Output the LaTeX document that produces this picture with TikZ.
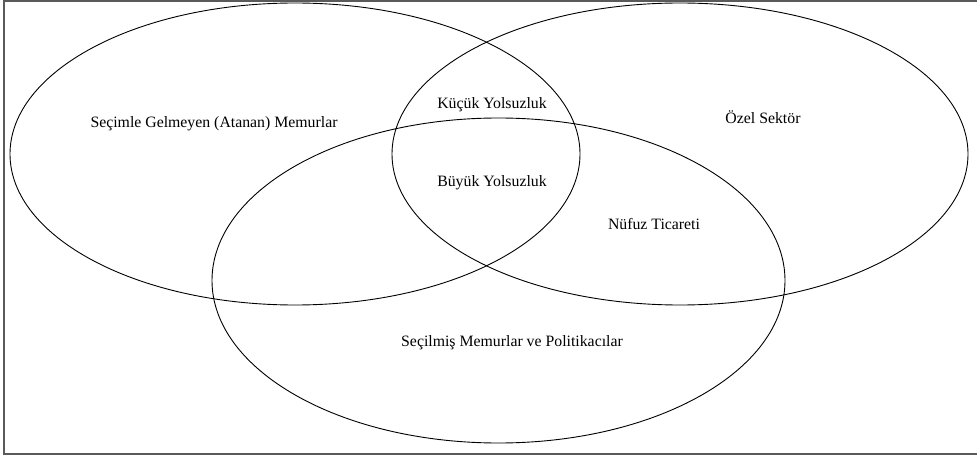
\documentclass[tikz,border=0pt]{standalone}
\usepackage{fontspec}
\setmainfont{Liberation Serif}
\usepackage{tikz}
\usetikzlibrary{positioning}
\definecolor{frameGray}{HTML}{5A5A5A}
\tikzset{
  setline/.style={draw=black, line width=0.9pt},
  setlabel/.style={font=\fontsize{15.8}{19}\selectfont, inner sep=1pt},
  framebox/.style={draw=frameGray, line width=1.6pt},
}
\begin{document}
\begin{tikzpicture}[x=1pt, y=-1pt]
\useasboundingbox (0,0) rectangle (977,457);
\fill[white] (0,0) rectangle (977,457);

%% Frame
\draw[framebox] (4,1) rectangle (985,454);

%% Sets
\draw[setline] (295,154) ellipse [x radius=285, y radius=151];
\draw[setline] (680,154) ellipse [x radius=288, y radius=151];
\draw[setline] (498.5,280.5) ellipse [x radius=286.5, y radius=162.5];

%% Labels
\node[setlabel] (appointed) at (214,124) {Seçimle Gelmeyen (Atanan) Memurlar};
\node[setlabel] (private)   at (763,117) {Özel Sektör};
\node[setlabel] (petty)     at (492,105) {Küçük Yolsuzluk};
\node[setlabel] (grand)     at (492,183) {Büyük Yolsuzluk};
\node[setlabel] (influence) at (654,224) {Nüfuz Ticareti};
\node[setlabel] (elected)   at (512,343) {Seçilmiş Memurlar ve Politikacılar};
\end{tikzpicture}
\end{document}
